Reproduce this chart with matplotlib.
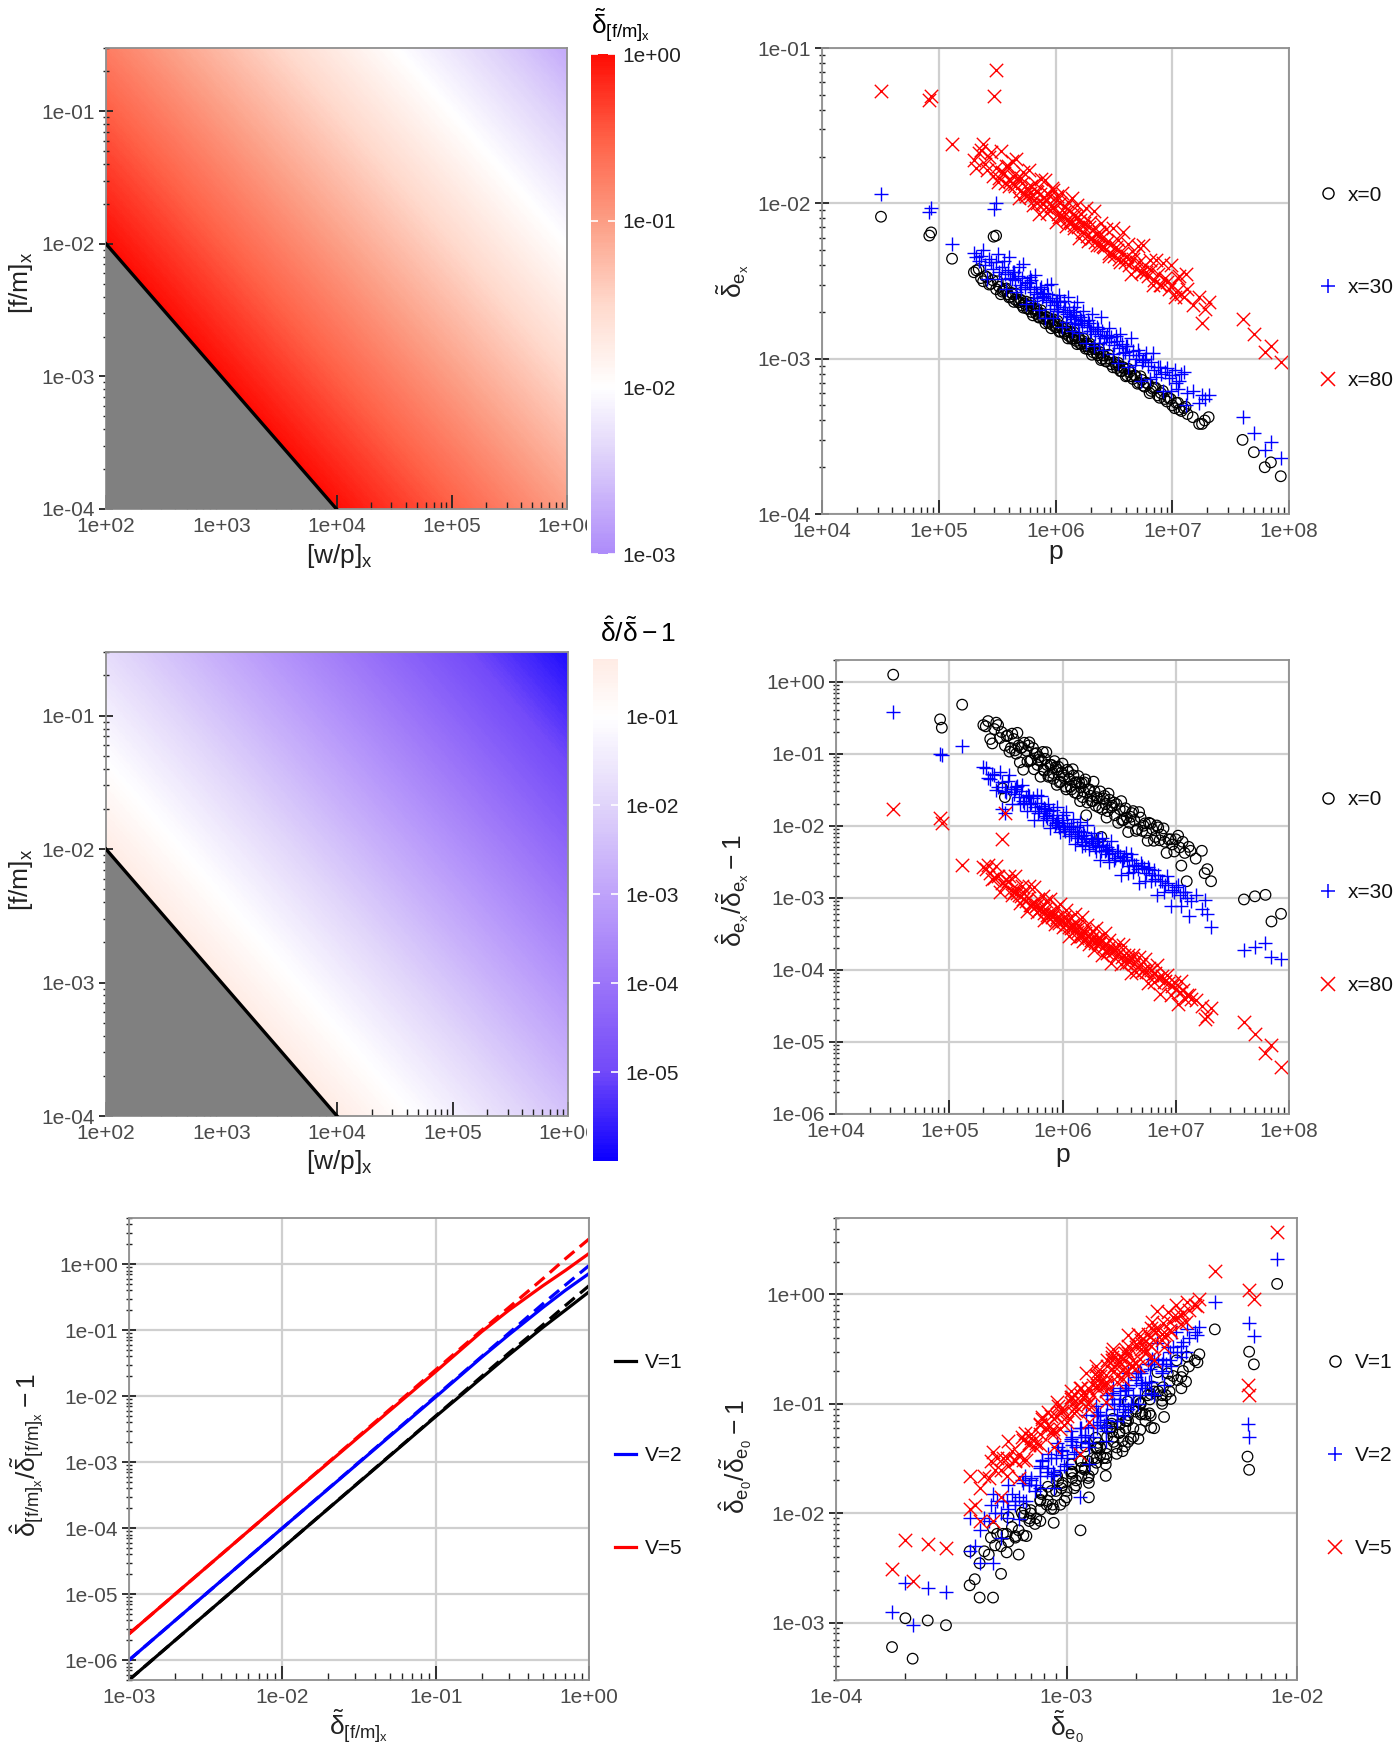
import numpy as np
import matplotlib
matplotlib.use("Agg")
import matplotlib.pyplot as plt
from matplotlib.colors import LinearSegmentedColormap, LogNorm
from matplotlib.ticker import LogLocator, NullFormatter, FuncFormatter
from matplotlib.lines import Line2D
from matplotlib.transforms import Bbox, TransformedBbox

plt.rcParams['font.family'] = ['Liberation Sans', 'DejaVu Sans']
plt.rcParams['mathtext.fontset'] = 'custom'
plt.rcParams['mathtext.rm'] = 'Liberation Sans'
plt.rcParams['mathtext.it'] = 'Liberation Sans:italic'
plt.rcParams['mathtext.fallback'] = 'stixsans'

# ---- heat maps: value along the product [w/p]x * [f/m]x
prod_pts = [1.0, 1e1, 1e2, 1e3, 1e4, 1e5, 3e5]
dtil_pts = [1.0, 0.32, 0.1, 0.032, 0.01, 0.0033, 0.0018]
ratio_pts = [0.44, 0.045, 0.0045, 4.5e-4, 4.5e-5, 4.5e-6, 1.5e-6]
wp_range = [1e2, 1e6]
fm_range = [1e-4, 0.3]
grey_wp = [1e2, 1e2, 1e4]
grey_fm = [1e-4, 1e-2, 1e-4]

# ---- scatter data (one entry per company): outliers, main cloud, second part of the cloud
p_out = [3.2e4, 8.3e4, 8.6e4, 1.3e5, 2.95e5, 3.1e5, 4.0e7, 5.0e7, 6.2e7, 7.0e7, 8.5e7]
p_main = [2.0e5, 2.1e5, 2.3e5, 2.5e5, 2.7e5, 2.9e5, 3.1e5, 3.3e5, 3.5e5, 3.7e5,
          3.9e5, 4.1e5, 4.3e5, 4.5e5, 4.8e5, 5.0e5, 5.2e5, 5.5e5, 5.7e5, 6.0e5,
          6.2e5, 6.5e5, 6.8e5, 7.0e5, 7.3e5, 7.6e5, 8.0e5, 8.3e5, 8.7e5, 9.0e5,
          9.4e5, 9.8e5, 1.02e6, 1.06e6, 1.1e6, 1.15e6, 1.2e6, 1.25e6, 1.3e6, 1.35e6,
          1.4e6, 1.45e6, 1.5e6, 1.56e6, 1.62e6, 1.7e6, 1.77e6, 1.85e6, 1.92e6, 2.0e6,
          2.1e6, 2.2e6, 2.3e6, 2.4e6, 2.5e6, 2.6e6, 2.75e6, 2.9e6, 3.0e6, 3.2e6,
          3.35e6, 3.5e6, 3.7e6, 3.9e6, 4.1e6, 4.3e6, 4.6e6, 4.9e6, 5.2e6, 5.5e6,
          5.8e6, 6.2e6, 6.6e6, 7.0e6, 7.5e6, 8.0e6, 8.6e6, 9.3e6, 1.0e7, 1.08e7,
          1.15e7, 1.25e7, 1.35e7, 1.5e7, 1.7e7, 1.9e7, 2.05e7]
p_more = [2.2e5, 2.4e5, 2.6e5, 2.8e5, 3.2e5, 3.4e5, 3.6e5, 3.8e5, 4.0e5, 4.2e5,
          4.4e5, 4.6e5, 4.9e5, 5.1e5, 5.3e5, 5.6e5, 5.9e5, 6.1e5, 6.4e5, 6.7e5,
          6.9e5, 7.2e5, 7.5e5, 7.8e5, 8.2e5, 8.5e5, 8.9e5, 9.2e5, 9.6e5, 1.0e6,
          1.04e6, 1.08e6, 1.13e6, 1.18e6, 1.23e6, 1.28e6, 1.33e6, 1.38e6, 1.43e6, 1.48e6,
          1.53e6, 1.59e6, 1.66e6, 1.73e6, 1.81e6, 1.88e6, 1.96e6, 2.05e6, 2.15e6, 2.25e6,
          2.35e6, 2.45e6, 2.55e6, 2.7e6, 2.85e6, 3.1e6, 3.3e6, 3.45e6, 3.6e6, 3.8e6,
          4.0e6, 4.2e6, 4.45e6, 4.75e6, 5.05e6, 5.35e6, 5.65e6, 6.0e6, 6.4e6, 6.8e6,
          7.2e6, 7.8e6, 8.3e6, 9.0e6, 9.7e6, 1.05e7, 1.12e7, 1.2e7, 1.3e7, 1.8e7]

# delta tilde e_x  (top right); x=0 is also the x axis of the bottom right panel
d0_out = [8.2e-3, 6.2e-3, 6.5e-3, 4.4e-3, 6.1e-3, 6.2e-3, 3.0e-4, 2.5e-4, 2.0e-4, 2.15e-4, 1.75e-4]
d0_main = [3.6e-3, 3.7e-3, 3.3e-3, 3.4e-3, 3.0e-3, 3.2e-3, 2.8e-3, 2.9e-3, 2.7e-3, 2.8e-3,
           2.6e-3, 2.5e-3, 2.6e-3, 2.4e-3, 2.3e-3, 2.4e-3, 2.2e-3, 2.25e-3, 2.1e-3, 2.2e-3,
           2.0e-3, 2.1e-3, 1.95e-3, 2.0e-3, 1.85e-3, 1.95e-3, 1.8e-3, 1.85e-3, 1.7e-3, 1.8e-3,
           1.65e-3, 1.7e-3, 1.6e-3, 1.65e-3, 1.5e-3, 1.6e-3, 1.45e-3, 1.5e-3, 1.4e-3, 1.48e-3,
           1.35e-3, 1.4e-3, 1.3e-3, 1.36e-3, 1.25e-3, 1.3e-3, 1.2e-3, 1.25e-3, 1.15e-3, 1.2e-3,
           1.1e-3, 1.15e-3, 1.05e-3, 1.1e-3, 1.0e-3, 1.05e-3, 0.96e-3, 1.0e-3, 0.92e-3, 0.95e-3,
           0.87e-3, 0.9e-3, 0.83e-3, 0.86e-3, 0.78e-3, 0.82e-3, 0.74e-3, 0.77e-3, 0.7e-3, 0.73e-3,
           0.66e-3, 0.69e-3, 0.62e-3, 0.65e-3, 0.58e-3, 0.6e-3, 0.55e-3, 0.56e-3, 0.5e-3, 0.52e-3,
           0.47e-3, 0.48e-3, 0.44e-3, 0.42e-3, 0.38e-3, 0.4e-3, 0.42e-3]
d0_more = [3.77e-3, 3.15e-3, 3.34e-3, 3.03e-3, 3.15e-3, 2.6e-3, 2.75e-3, 2.83e-3, 2.48e-3, 2.65e-3,
           2.32e-3, 2.62e-3, 2.32e-3, 2.36e-3, 2.13e-3, 2.33e-3, 2.09e-3, 2.29e-3, 1.9e-3, 2.05e-3,
           2.09e-3, 1.84e-3, 2.05e-3, 1.82e-3, 1.69e-3, 1.85e-3, 1.75e-3, 1.57e-3, 1.79e-3, 1.59e-3,
           1.75e-3, 1.49e-3, 1.58e-3, 1.49e-3, 1.57e-3, 1.35e-3, 1.49e-3, 1.34e-3, 1.48e-3, 1.35e-3,
           1.24e-3, 1.37e-3, 1.24e-3, 1.35e-3, 1.16e-3, 1.21e-3, 1.25e-3, 1.06e-3, 1.16e-3, 1.08e-3,
           1.16e-3, 0.98e-3, 1.05e-3, 0.96e-3, 1.06e-3, 0.88e-3, 0.91e-3, 0.94e-3, 0.83e-3, 0.88e-3,
           0.77e-3, 0.86e-3, 0.77e-3, 0.78e-3, 0.69e-3, 0.77e-3, 0.67e-3, 0.7e-3, 0.6e-3, 0.64e-3,
           0.65e-3, 0.56e-3, 0.62e-3, 0.53e-3, 0.55e-3, 0.48e-3, 0.52e-3, 0.46e-3, 0.49e-3, 0.38e-3]
d30_out = [1.15e-2, 8.8e-3, 9.4e-3, 5.5e-3, 9.2e-3, 1.0e-2, 4.2e-4, 3.3e-4, 2.6e-4, 2.9e-4, 2.3e-4]
d30_main = [4.8e-3, 4.5e-3, 4.6e-3, 4.0e-3, 4.4e-3, 3.8e-3, 4.2e-3, 3.6e-3, 3.9e-3, 3.5e-3,
            3.7e-3, 3.3e-3, 3.6e-3, 3.2e-3, 3.4e-3, 3.0e-3, 3.3e-3, 2.9e-3, 3.1e-3, 2.8e-3,
            3.2e-3, 2.7e-3, 2.9e-3, 2.6e-3, 2.8e-3, 2.5e-3, 2.65e-3, 2.4e-3, 2.6e-3, 2.3e-3,
            2.45e-3, 2.2e-3, 2.35e-3, 2.1e-3, 2.3e-3, 2.0e-3, 2.15e-3, 1.95e-3, 2.05e-3, 1.85e-3,
            2.0e-3, 1.8e-3, 1.9e-3, 1.7e-3, 1.85e-3, 1.65e-3, 1.75e-3, 1.6e-3, 1.7e-3, 1.5e-3,
            1.6e-3, 1.45e-3, 1.55e-3, 1.4e-3, 1.5e-3, 1.35e-3, 1.42e-3, 1.28e-3, 1.38e-3, 1.22e-3,
            1.3e-3, 1.18e-3, 1.25e-3, 1.1e-3, 1.2e-3, 1.05e-3, 1.12e-3, 1.0e-3, 1.05e-3, 0.95e-3,
            1.0e-3, 0.9e-3, 0.95e-3, 0.85e-3, 0.88e-3, 0.8e-3, 0.82e-3, 0.75e-3, 0.78e-3, 0.7e-3,
            0.72e-3, 0.82e-3, 0.6e-3, 0.62e-3, 0.52e-3, 0.55e-3, 0.58e-3]
d30_more = [4.28e-3, 5.0e-3, 3.28e-3, 4.21e-3, 4.73e-3, 3.25e-3, 4.27e-3, 2.82e-3, 4.51e-3, 3.27e-3,
            3.63e-3, 2.69e-3, 3.89e-3, 2.81e-3, 4.04e-3, 2.26e-3, 3.05e-3, 3.36e-3, 2.34e-3, 3.47e-3,
            2.47e-3, 2.07e-3, 2.89e-3, 2.52e-3, 1.82e-3, 3.0e-3, 2.08e-3, 3.02e-3, 1.84e-3, 2.36e-3,
            2.04e-3, 2.58e-3, 1.61e-3, 2.34e-3, 1.73e-3, 2.48e-3, 1.87e-3, 1.51e-3, 2.16e-3, 1.66e-3,
            2.32e-3, 1.47e-3, 1.78e-3, 2.04e-3, 1.26e-3, 1.78e-3, 1.5e-3, 1.94e-3, 1.21e-3, 1.59e-3,
            1.27e-3, 1.86e-3, 1.14e-3, 1.35e-3, 1.57e-3, 1.07e-3, 1.39e-3, 0.94e-3, 1.44e-3, 1.09e-3,
            1.21e-3, 0.88e-3, 1.35e-3, 0.91e-3, 1.14e-3, 0.72e-3, 0.98e-3, 1.09e-3, 0.74e-3, 1.09e-3,
            0.76e-3, 0.88e-3, 0.62e-3, 0.87e-3, 0.62e-3, 0.84e-3, 0.64e-3, 0.8e-3, 0.5e-3, 0.58e-3]
d80_out = [5.3e-2, 4.6e-2, 4.9e-2, 2.4e-2, 4.9e-2, 7.2e-2, 1.8e-3, 1.45e-3, 1.1e-3, 1.2e-3, 9.5e-4]
d80_main = [1.9e-2, 1.7e-2, 2.2e-2, 1.8e-2, 2.0e-2, 1.5e-2, 1.7e-2, 1.45e-2, 1.6e-2, 1.35e-2,
            1.75e-2, 1.4e-2, 1.5e-2, 1.3e-2, 1.45e-2, 1.2e-2, 1.35e-2, 1.15e-2, 1.25e-2, 1.1e-2,
            1.3e-2, 1.05e-2, 1.2e-2, 1.0e-2, 1.15e-2, 1.0e-2, 1.1e-2, 0.95e-2, 1.15e-2, 0.9e-2,
            1.25e-2, 0.95e-2, 1.05e-2, 0.85e-2, 1.0e-2, 0.82e-2, 0.95e-2, 0.78e-2, 0.9e-2, 0.75e-2,
            0.85e-2, 0.72e-2, 0.8e-2, 0.7e-2, 0.78e-2, 0.65e-2, 0.75e-2, 0.62e-2, 0.7e-2, 0.6e-2,
            0.68e-2, 0.56e-2, 0.62e-2, 0.54e-2, 0.6e-2, 0.52e-2, 0.56e-2, 0.48e-2, 0.55e-2, 0.46e-2,
            0.5e-2, 0.44e-2, 0.48e-2, 0.42e-2, 0.46e-2, 0.4e-2, 0.44e-2, 0.38e-2, 0.42e-2, 0.36e-2,
            0.4e-2, 0.34e-2, 0.37e-2, 0.32e-2, 0.35e-2, 0.3e-2, 0.33e-2, 0.28e-2, 0.3e-2, 0.27e-2,
            0.34e-2, 0.25e-2, 0.28e-2, 0.22e-2, 0.25e-2, 0.21e-2, 0.23e-2]
d80_more = [2.11e-2, 2.42e-2, 1.65e-2, 2.15e-2, 1.37e-2, 2.18e-2, 1.57e-2, 1.74e-2, 1.29e-2, 1.87e-2,
            1.34e-2, 1.93e-2, 1.08e-2, 1.46e-2, 1.6e-2, 1.11e-2, 1.64e-2, 1.17e-2, 0.98e-2, 1.36e-2,
            1.19e-2, 0.86e-2, 1.43e-2, 0.99e-2, 1.42e-2, 0.87e-2, 1.11e-2, 0.96e-2, 1.21e-2, 0.76e-2,
            1.11e-2, 0.82e-2, 1.17e-2, 0.88e-2, 0.71e-2, 1.02e-2, 0.77e-2, 1.08e-2, 0.69e-2, 0.84e-2,
            0.97e-2, 0.6e-2, 0.85e-2, 0.71e-2, 0.93e-2, 0.57e-2, 0.76e-2, 0.6e-2, 0.89e-2, 0.54e-2,
            0.65e-2, 0.75e-2, 0.53e-2, 0.68e-2, 0.46e-2, 0.69e-2, 0.52e-2, 0.58e-2, 0.42e-2, 0.65e-2,
            0.45e-2, 0.55e-2, 0.35e-2, 0.47e-2, 0.53e-2, 0.36e-2, 0.54e-2, 0.36e-2, 0.43e-2, 0.3e-2,
            0.43e-2, 0.3e-2, 0.41e-2, 0.31e-2, 0.4e-2, 0.25e-2, 0.33e-2, 0.26e-2, 0.35e-2, 0.17e-2]

# delta hat / delta tilde - 1 (middle right); x=0 is also V=1 in the bottom right panel
r0_out = [1.25, 0.3, 0.23, 0.48, 0.033, 0.025, 9.5e-4, 1.05e-3, 1.1e-3, 4.7e-4, 6.0e-4]
r0_main = [0.25, 0.24, 0.16, 0.22, 0.25, 0.20, 0.13, 0.18, 0.12, 0.16,
           0.10, 0.13, 0.12, 0.06, 0.11, 0.13, 0.08, 0.12, 0.10, 0.07,
           0.09, 0.08, 0.06, 0.085, 0.07, 0.05, 0.07, 0.045, 0.065, 0.06,
           0.04, 0.055, 0.05, 0.035, 0.06, 0.045, 0.032, 0.05, 0.04, 0.028,
           0.04, 0.034, 0.025, 0.04, 0.014, 0.032, 0.026, 0.022, 0.03, 0.025,
           0.018, 0.007, 0.024, 0.02, 0.016, 0.023, 0.019, 0.014, 0.02, 0.017,
           0.012, 0.016, 0.013, 0.011, 0.015, 0.012, 0.009, 0.013, 0.01, 0.008,
           0.011, 0.009, 0.007, 0.0095, 0.0075, 0.006, 0.0065, 0.0055, 0.0065, 0.005,
           0.006, 0.0017, 0.0045, 0.0035, 0.0045, 0.0025, 0.0017]
r0_more = [0.284, 0.139, 0.27, 0.165, 0.176, 0.107, 0.19, 0.111, 0.195, 0.076,
           0.123, 0.142, 0.078, 0.144, 0.082, 0.061, 0.102, 0.082, 0.048, 0.106,
           0.058, 0.105, 0.048, 0.07, 0.054, 0.079, 0.037, 0.066, 0.041, 0.073,
           0.046, 0.032, 0.056, 0.035, 0.061, 0.029, 0.04, 0.049, 0.022, 0.039,
           0.03, 0.044, 0.021, 0.032, 0.022, 0.041, 0.019, 0.024, 0.03, 0.017,
           0.026, 0.013, 0.028, 0.018, 0.021, 0.011, 0.022, 0.012, 0.0175, 0.0082,
           0.0133, 0.016, 0.0085, 0.0155, 0.0085, 0.0108, 0.0062, 0.0107, 0.0062, 0.0101,
           0.0063, 0.0092, 0.0042, 0.0065, 0.0044, 0.0073, 0.0028, 0.0042, 0.0051, 0.0022]
r30_out = [0.38, 0.1, 0.095, 0.13, 0.017, 0.015, 1.9e-4, 2.1e-4, 2.4e-4, 1.5e-4, 1.4e-4]
r30_main = [0.065, 0.063, 0.045, 0.05, 0.035, 0.04, 0.03, 0.042, 0.032, 0.028,
            0.035, 0.025, 0.03, 0.022, 0.025, 0.027, 0.02, 0.024, 0.018, 0.021,
            0.016, 0.019, 0.015, 0.017, 0.013, 0.016, 0.012, 0.014, 0.011, 0.013,
            0.0095, 0.012, 0.01, 0.0085, 0.011, 0.009, 0.0078, 0.0095, 0.0082, 0.0068,
            0.0085, 0.0072, 0.006, 0.0075, 0.0065, 0.0055, 0.0068, 0.0058, 0.005, 0.0062,
            0.0052, 0.0045, 0.0055, 0.0046, 0.004, 0.0048, 0.0042, 0.0036, 0.0044, 0.0038,
            0.0032, 0.0037, 0.0033, 0.0028, 0.0034, 0.0029, 0.0025, 0.003, 0.0026, 0.0022,
            0.0025, 0.0021, 0.0018, 0.0021, 0.0017, 0.0015, 0.0016, 0.0013, 0.0014, 0.0011,
            0.0012, 0.001, 0.0009, 0.0011, 0.0007, 0.0006, 0.0004]
r30_more = [0.046, 0.052, 0.031, 0.055, 0.029, 0.051, 0.020, 0.032, 0.036, 0.020,
            0.037, 0.021, 0.016, 0.026, 0.021, 0.012, 0.027, 0.015, 0.026, 0.012,
            0.0176, 0.0136, 0.02, 0.0094, 0.0167, 0.0103, 0.018, 0.0114, 0.0081, 0.0141,
            0.009, 0.0153, 0.0073, 0.0098, 0.0124, 0.0056, 0.0097, 0.0072, 0.0112, 0.0052,
            0.0081, 0.0055, 0.0103, 0.0047, 0.0062, 0.0079, 0.0045, 0.0065, 0.0034, 0.0068,
            0.0044, 0.0051, 0.0031, 0.0062, 0.0033, 0.0045, 0.0021, 0.0034, 0.0042, 0.0022,
            0.0041, 0.0023, 0.0029, 0.0016, 0.0028, 0.0017, 0.0027, 0.0017, 0.0024, 0.0011,
            0.0017, 0.0012, 0.002, 0.00076, 0.0012, 0.0015, 0.00077, 0.0012, 0.00056, 0.00092]
r80_out = [1.7e-2, 1.3e-2, 1.1e-2, 2.9e-3, 6.5e-3, 1.5e-2, 1.9e-5, 1.3e-5, 7e-6, 9e-6, 4.5e-6]
r80_main = [2.7e-3, 2.5e-3, 2.2e-3, 1.9e-3, 2.0e-3, 1.6e-3, 1.5e-3, 1.7e-3, 1.3e-3, 1.2e-3,
            1.35e-3, 1.1e-3, 1.05e-3, 0.95e-3, 0.9e-3, 1.0e-3, 0.8e-3, 0.85e-3, 0.75e-3, 0.8e-3,
            0.68e-3, 0.72e-3, 0.62e-3, 0.7e-3, 0.58e-3, 0.62e-3, 0.55e-3, 0.58e-3, 0.5e-3, 0.55e-3,
            0.45e-3, 0.5e-3, 0.48e-3, 0.42e-3, 0.5e-3, 0.4e-3, 0.38e-3, 0.44e-3, 0.36e-3, 0.34e-3,
            0.4e-3, 0.32e-3, 0.3e-3, 0.35e-3, 0.28e-3, 0.3e-3, 0.26e-3, 0.29e-3, 0.24e-3, 0.27e-3,
            0.23e-3, 0.25e-3, 0.21e-3, 0.23e-3, 0.19e-3, 0.21e-3, 0.18e-3, 0.19e-3, 0.16e-3, 0.18e-3,
            0.15e-3, 0.16e-3, 0.14e-3, 0.13e-3, 0.145e-3, 0.12e-3, 0.11e-3, 0.12e-3, 0.1e-3, 0.095e-3,
            0.105e-3, 0.085e-3, 0.09e-3, 0.078e-3, 0.082e-3, 0.07e-3, 0.065e-3, 0.06e-3, 0.055e-3, 0.05e-3,
            0.052e-3, 0.045e-3, 0.04e-3, 0.038e-3, 0.032e-3, 0.023e-3, 0.03e-3]
r80_more = [2.9e-3, 1.84e-3, 2.8e-3, 1.2e-3, 1.77e-3, 2.02e-3, 1.11e-3, 2.04e-3, 1.16e-3, 0.86e-3,
            1.44e-3, 1.15e-3, 0.66e-3, 1.45e-3, 0.8e-3, 1.43e-3, 0.63e-3, 0.95e-3, 0.73e-3, 1.06e-3,
            0.5e-3, 0.9e-3, 0.55e-3, 0.97e-3, 0.61e-3, 0.43e-3, 0.75e-3, 0.48e-3, 0.83e-3, 0.39e-3,
            0.54e-3, 0.67e-3, 0.3e-3, 0.52e-3, 0.39e-3, 0.59e-3, 0.28e-3, 0.42e-3, 0.3e-3, 0.55e-3,
            0.25e-3, 0.33e-3, 0.42e-3, 0.23e-3, 0.35e-3, 0.19e-3, 0.38e-3, 0.24e-3, 0.28e-3, 0.16e-3,
            0.32e-3, 0.17e-3, 0.26e-3, 0.126e-3, 0.19e-3, 0.23e-3, 0.12e-3, 0.22e-3, 0.126e-3, 0.16e-3,
            0.092e-3, 0.16e-3, 0.093e-3, 0.15e-3, 0.096e-3, 0.14e-3, 0.065e-3, 0.1e-3, 0.069e-3, 0.117e-3,
            0.046e-3, 0.067e-3, 0.084e-3, 0.045e-3, 0.068e-3, 0.034e-3, 0.07e-3, 0.04e-3, 0.045e-3, 0.021e-3]

# bottom right: V=2 and V=5 (V=1 is r0)
v2_out = [2.1, 0.55, 0.42, 0.85, 0.065, 0.05, 1.9e-3, 2.1e-3, 2.3e-3, 9.5e-4, 1.25e-3]
v2_main = [0.45, 0.43, 0.3, 0.4, 0.45, 0.37, 0.25, 0.33, 0.23, 0.3,
           0.19, 0.25, 0.23, 0.12, 0.21, 0.25, 0.155, 0.23, 0.19, 0.14,
           0.175, 0.155, 0.12, 0.165, 0.14, 0.1, 0.14, 0.09, 0.13, 0.12,
           0.08, 0.11, 0.1, 0.07, 0.12, 0.09, 0.064, 0.1, 0.08, 0.056,
           0.08, 0.068, 0.05, 0.08, 0.028, 0.064, 0.052, 0.044, 0.06, 0.05,
           0.036, 0.014, 0.048, 0.04, 0.032, 0.046, 0.038, 0.028, 0.04, 0.034,
           0.024, 0.032, 0.026, 0.022, 0.03, 0.024, 0.018, 0.026, 0.02, 0.016,
           0.022, 0.018, 0.014, 0.019, 0.015, 0.012, 0.013, 0.011, 0.013, 0.01,
           0.012, 0.0035, 0.009, 0.007, 0.009, 0.005, 0.0035]
v2_more = [0.5, 0.27, 0.48, 0.3, 0.34, 0.2, 0.33, 0.22, 0.36, 0.15,
           0.23, 0.26, 0.16, 0.26, 0.15, 0.125, 0.2, 0.16, 0.1, 0.19,
           0.12, 0.19, 0.1, 0.135, 0.1, 0.15, 0.078, 0.125, 0.085, 0.14,
           0.095, 0.062, 0.11, 0.072, 0.12, 0.06, 0.08, 0.095, 0.046, 0.078,
           0.062, 0.085, 0.044, 0.064, 0.045, 0.08, 0.04, 0.05, 0.06, 0.035,
           0.05, 0.027, 0.056, 0.037, 0.042, 0.023, 0.044, 0.025, 0.035, 0.017,
           0.027, 0.032, 0.017, 0.031, 0.018, 0.022, 0.013, 0.021, 0.013, 0.02,
           0.013, 0.018, 0.0088, 0.013, 0.009, 0.015, 0.006, 0.0085, 0.01, 0.0045]
v5_out = [3.7, 1.1, 0.9, 1.65, 0.15, 0.12, 4.8e-3, 5.2e-3, 5.7e-3, 2.4e-3, 3.1e-3]
v5_main = [0.8, 0.78, 0.56, 0.72, 0.8, 0.68, 0.47, 0.62, 0.44, 0.56,
           0.38, 0.47, 0.44, 0.25, 0.41, 0.47, 0.32, 0.44, 0.38, 0.29,
           0.35, 0.32, 0.25, 0.33, 0.29, 0.22, 0.29, 0.2, 0.27, 0.25,
           0.18, 0.24, 0.22, 0.16, 0.25, 0.2, 0.15, 0.22, 0.18, 0.13,
           0.18, 0.155, 0.12, 0.18, 0.068, 0.15, 0.12, 0.105, 0.14, 0.12,
           0.087, 0.035, 0.115, 0.096, 0.078, 0.11, 0.092, 0.068, 0.096, 0.083,
           0.059, 0.078, 0.064, 0.054, 0.073, 0.059, 0.044, 0.064, 0.049, 0.04,
           0.054, 0.044, 0.035, 0.047, 0.037, 0.03, 0.032, 0.027, 0.032, 0.025,
           0.03, 0.0085, 0.022, 0.017, 0.022, 0.012, 0.0085]
v5_more = [0.9, 0.54, 0.85, 0.62, 0.65, 0.44, 0.69, 0.45, 0.7, 0.33,
           0.49, 0.55, 0.34, 0.56, 0.35, 0.27, 0.42, 0.35, 0.22, 0.44,
           0.26, 0.43, 0.22, 0.31, 0.24, 0.34, 0.17, 0.29, 0.19, 0.32,
           0.21, 0.15, 0.25, 0.16, 0.27, 0.14, 0.185, 0.22, 0.105, 0.18,
           0.14, 0.2, 0.1, 0.15, 0.105, 0.19, 0.09, 0.115, 0.14, 0.082,
           0.12, 0.064, 0.13, 0.087, 0.1, 0.054, 0.105, 0.059, 0.085, 0.04,
           0.065, 0.078, 0.042, 0.076, 0.042, 0.053, 0.031, 0.053, 0.031, 0.05,
           0.031, 0.046, 0.021, 0.032, 0.022, 0.036, 0.014, 0.021, 0.025, 0.011]

# ---- bottom left lines
line_x = [1e-3, 1e-2, 1e-1, 0.2, 0.3, 0.5, 0.7, 1.0]
v1_solid = [5e-7, 5e-5, 4.9e-3, 1.9e-2, 4.2e-2, 0.11, 0.2, 0.38]
v1_dash = [5e-7, 5e-5, 5e-3, 2e-2, 4.5e-2, 0.12, 0.235, 0.47]
v2_solid = [1e-6, 1e-4, 9.7e-3, 3.9e-2, 8.5e-2, 0.22, 0.4, 0.72]
v2_dash = [1e-6, 1e-4, 1e-2, 4e-2, 9e-2, 0.25, 0.48, 0.95]
v5_solid = [2.5e-6, 2.5e-4, 2.35e-2, 9.5e-2, 0.2, 0.47, 0.8, 1.45]
v5_dash = [2.5e-6, 2.5e-4, 2.5e-2, 0.1, 0.22, 0.6, 1.2, 2.4]

p_all = np.array(p_out + p_main + p_more)
d0 = np.array(d0_out + d0_main + d0_more)
d30 = np.array(d30_out + d30_main + d30_more)
d80 = np.array(d80_out + d80_main + d80_more)
r0 = np.array(r0_out + r0_main + r0_more)
r30 = np.array(r30_out + r30_main + r30_more)
r80 = np.array(r80_out + r80_main + r80_more)
v2 = np.array(v2_out + v2_main + v2_more)
v5 = np.array(v5_out + v5_main + v5_more)

# ---- figure
W, H = 1394, 1752
fig = plt.figure(figsize=(W / 100, H / 100), dpi=100)


def box(l, t, r, b):
    return [l / W, 1 - b / H, (r - l) / W, (b - t) / H]


TICK_C = '#4a4a4a'
fmt = FuncFormatter(lambda v, pos: f'{v:.0e}')


def style(ax, xt, yt, grid=True):
    ax.set_xscale('log')
    ax.set_yscale('log')
    ax.set_xticks(xt)
    ax.set_yticks(yt)
    ax.xaxis.set_major_formatter(fmt)
    ax.yaxis.set_major_formatter(fmt)
    ax.xaxis.set_minor_locator(LogLocator(base=10, subs=np.arange(2, 10), numticks=30))
    ax.yaxis.set_minor_locator(LogLocator(base=10, subs=np.arange(2, 10), numticks=30))
    ax.xaxis.set_minor_formatter(NullFormatter())
    ax.yaxis.set_minor_formatter(NullFormatter())
    for s in ax.spines.values():
        s.set_color('#8f8f8f')
        s.set_linewidth(1.3)
    ax.tick_params(axis='x', which='both', direction='in', pad=6)
    ax.tick_params(axis='y', which='both', direction='inout', pad=3)
    ax.tick_params(which='both', color='#222222', labelsize=15, labelcolor=TICK_C)
    ax.tick_params(which='major', length=10, width=1.3)
    ax.tick_params(which='minor', length=5, width=1.0)
    if grid:
        ax.grid(True, which='major', color='#cfcfcf', lw=1.6)
        ax.set_axisbelow(True)


# colour map (blue - purple - white - salmon - red)
cm_pos = [0.0, 0.1, 0.2, 0.3, 0.4, 0.5, 0.625, 0.75, 0.875, 1.0]
cm_rgb = ['#0d00ff', '#734af9', '#9c75f9', '#bfa3fa', '#e0d4fa', '#ffffff',
          '#ffd9cc', '#fc9e85', '#ff6147', '#ff0d05']
base_cmap = LinearSegmentedColormap.from_list('tec', list(zip(cm_pos, cm_rgb)))
cmap1 = LinearSegmentedColormap.from_list('c1', base_cmap(np.linspace(0.25, 1.0, 256)))
cmap2 = LinearSegmentedColormap.from_list('c2', base_cmap(np.linspace(0.0, 0.564, 256)))

wp = np.logspace(np.log10(wp_range[0]), np.log10(wp_range[1]), 400)
fm = np.logspace(np.log10(fm_range[0]), np.log10(fm_range[1]), 400)
WP, FM = np.meshgrid(wp, fm)
logP = np.log10(WP * FM)
field1 = 10 ** np.interp(logP, np.log10(prod_pts), np.log10(dtil_pts))
field2 = 10 ** np.interp(logP, np.log10(prod_pts), np.log10(ratio_pts))

heat = [
    (box(106, 48, 567, 509), box(591, 54, 615, 554), field1, cmap1, LogNorm(1e-3, 1.0),
     [1e-3, 1e-2, 1e-1, 1e0], (621, 25), r'$\tilde{\mathrm{δ}}_{[\mathrm{f/m}]_\mathrm{x}}$',
     (339, 556), (21, 283)),
    (box(106, 652, 568, 1116), box(593, 659, 618, 1161), field2, cmap2, LogNorm(1e-6, 0.44),
     [1e-5, 1e-4, 1e-3, 1e-2, 1e-1], (638, 632), r'$\hat{\mathrm{δ}}/\tilde{\mathrm{δ}}-1$',
     (339, 1162), (21, 880)),
]
for pos, cpos, field, cmap, norm, cticks, tpos, ttxt, xlpos, ylpos in heat:
    ax = fig.add_axes(pos)
    mesh = ax.pcolormesh(wp, fm, field, cmap=cmap, norm=norm, shading='auto')
    ax.fill(grey_wp, grey_fm, color='#808080', zorder=3)
    ax.plot(grey_wp[1:], grey_fm[1:], color='black', lw=2.4, zorder=4)
    style(ax, [1e2, 1e3, 1e4, 1e5, 1e6], [1e-4, 1e-3, 1e-2, 1e-1], grid=False)
    ax.set_xlim(wp_range)
    ax.set_ylim(fm_range)
    last = ax.get_xticklabels()[-1]
    last.set_clip_on(True)
    last.set_clip_box(TransformedBbox(Bbox([[0, 0], [587 / W, 1]]), fig.transFigure))
    cax = fig.add_axes(cpos)
    cb = fig.colorbar(mesh, cax=cax)
    cb.outline.set_visible(False)
    cb.set_ticks(cticks)
    cb.ax.yaxis.set_major_formatter(fmt)
    cb.ax.minorticks_off()
    cb.ax.tick_params(direction='in', color='white', length=5, width=1.2, left=True,
                      right=True, labelsize=15, labelcolor='#222222', pad=5)
    fig.text(tpos[0] / W, 1 - tpos[1] / H, ttxt, fontsize=19, ha='center', va='center')
    fig.text(xlpos[0] / W, 1 - xlpos[1] / H, r'$[\mathrm{w/p}]_\mathrm{x}$',
             fontsize=19, ha='center', va='center', color='#222222')
    fig.text(ylpos[0] / W, 1 - ylpos[1] / H, r'$[\mathrm{f/m}]_\mathrm{x}$',
             fontsize=19, ha='center', va='center', rotation=90, color='#222222')

MS = 58
ex_series = [('x=0', 'o', 'black'), ('x=30', '+', 'blue'), ('x=80', 'x', 'red')]


def scatter3(ax, xs, ys, specs):
    handles = []
    for x, y, (lab, mk, col) in zip(xs, ys, specs):
        if mk == 'o':
            ax.scatter(x, y, s=MS, marker='o', facecolors='none', edgecolors=col, linewidths=0.9)
            h = Line2D([], [], ls='none', marker='o', mfc='none', mec=col, ms=8, mew=1.0)
        else:
            ax.scatter(x, y, s=MS * 1.6, marker=mk, color=col, linewidths=1.0)
            h = Line2D([], [], ls='none', marker=mk, color=col, ms=10, mew=1.1)
        handles.append((h, lab))
    return handles


def side_legend(ax, handles, xa, ya):
    ax.legend([h for h, _ in handles], [l for _, l in handles], loc='center left',
              bbox_to_anchor=(xa, ya), frameon=False, fontsize=15, labelspacing=3.55,
              handlelength=1.0, handletextpad=0.45, borderpad=0, borderaxespad=0,
              labelcolor='#111111')


# top right
ax = fig.add_axes(box(822, 48, 1289, 514))
hs = scatter3(ax, [p_all] * 3, [d0, d30, d80], ex_series)
style(ax, [1e4, 1e5, 1e6, 1e7, 1e8], [1e-4, 1e-3, 1e-2, 1e-1])
ax.set_xlim(1e4, 1e8)
ax.set_ylim(1e-4, 1e-1)
side_legend(ax, hs, 1.061, 0.485)
fig.text(1056 / W, 1 - 552 / H, 'p', fontsize=19, ha='center', va='center', color='#222222')
fig.text(733 / W, 1 - 281 / H, r'$\tilde{\mathrm{δ}}_{\mathrm{e}_\mathrm{x}}$', fontsize=19,
         ha='center', va='center', rotation=90, color='#222222')

# middle right
ax = fig.add_axes(box(836, 660, 1289, 1114))
hs = scatter3(ax, [p_all] * 3, [r0, r30, r80], ex_series)
style(ax, [1e4, 1e5, 1e6, 1e7, 1e8], [1e-6, 1e-5, 1e-4, 1e-3, 1e-2, 1e-1, 1e0])
ax.set_xlim(1e4, 1e8)
ax.set_ylim(1e-6, 2.0)
side_legend(ax, hs, 1.063, 0.487)
fig.text(1063 / W, 1 - 1155 / H, 'p', fontsize=19, ha='center', va='center', color='#222222')
fig.text(733 / W, 1 - 891 / H,
         r'$\hat{\mathrm{δ}}_{\mathrm{e}_\mathrm{x}}/\tilde{\mathrm{δ}}_{\mathrm{e}_\mathrm{x}}-1$',
         fontsize=19, ha='center', va='center', rotation=90, color='#222222')

# bottom left
ax = fig.add_axes(box(129, 1218, 589, 1680))
handles = []
for ys, yd, col, lab in [(v1_solid, v1_dash, 'black', 'V=1'),
                         (v2_solid, v2_dash, 'blue', 'V=2'),
                         (v5_solid, v5_dash, 'red', 'V=5')]:
    ax.plot(line_x, yd, color=col, lw=2.3, ls=(0, (4, 2.2)))
    ln, = ax.plot(line_x, ys, color=col, lw=2.3)
    handles.append((ln, lab))
style(ax, [1e-3, 1e-2, 1e-1, 1e0], [1e-6, 1e-5, 1e-4, 1e-3, 1e-2, 1e-1, 1e0])
ax.set_xlim(1e-3, 1.0)
ax.set_ylim(5e-7, 5.0)
side_legend(ax, handles, 1.0565, 0.485)
fig.text(359 / W, 1 - 1726 / H, r'$\tilde{\mathrm{δ}}_{[\mathrm{f/m}]_\mathrm{x}}$', fontsize=19,
         ha='center', va='center', color='#222222')
fig.text(28 / W, 1 - 1455 / H,
         r'$\hat{\mathrm{δ}}_{[\mathrm{f/m}]_\mathrm{x}}/\tilde{\mathrm{δ}}_{[\mathrm{f/m}]_\mathrm{x}}-1$',
         fontsize=19, ha='center', va='center', rotation=90, color='#222222')

# bottom right
ax = fig.add_axes(box(836, 1218, 1297, 1680))
v_series = [('V=1', 'o', 'black'), ('V=2', '+', 'blue'), ('V=5', 'x', 'red')]
hs = scatter3(ax, [d0] * 3, [r0, v2, v5], v_series)
style(ax, [1e-4, 1e-3, 1e-2], [1e-3, 1e-2, 1e-1, 1e0])
ax.set_xlim(1e-4, 1e-2)
ax.set_ylim(3e-4, 5.0)
side_legend(ax, hs, 1.06, 0.485)
fig.text(1067 / W, 1 - 1727 / H, r'$\tilde{\mathrm{δ}}_{\mathrm{e}_0}$', fontsize=19,
         ha='center', va='center', color='#222222')
fig.text(736 / W, 1 - 1457 / H,
         r'$\hat{\mathrm{δ}}_{\mathrm{e}_0}/\tilde{\mathrm{δ}}_{\mathrm{e}_0}-1$',
         fontsize=19, ha='center', va='center', rotation=90, color='#222222')

fig.savefig('out.png', dpi=100)
